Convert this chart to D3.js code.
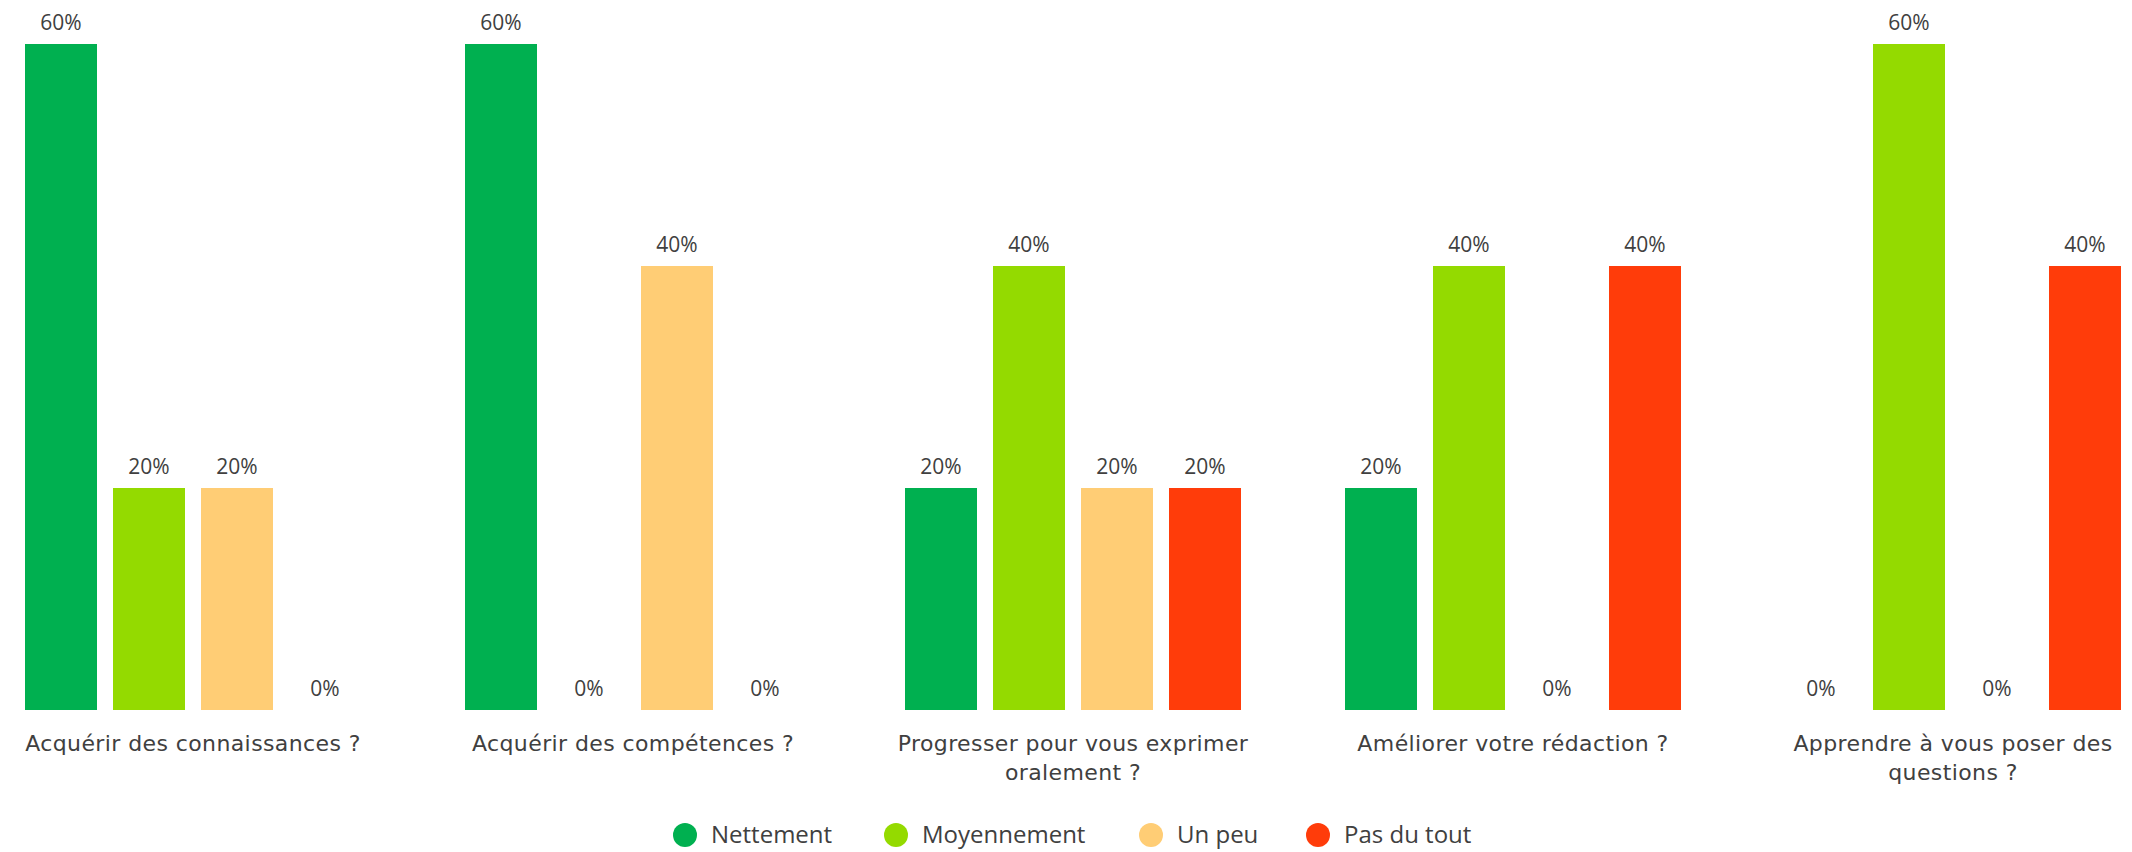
<!DOCTYPE html>
<html>
<head>
<meta charset="utf-8">
<script src="https://cdn.jsdelivr.net/npm/d3@7"></script>
<style>
  body { margin: 0; background: #fff; }
  text { font-family: "Open Sans", sans-serif; fill: #404040; }
  .cat { font-family: "DejaVu Sans", sans-serif; letter-spacing: 0.4px; }
</style>
</head>
<body>
<div id="chart"></div>
<script>

var categories = ["Acquérir des connaissances ?", "Acquérir des compétences ?", "Progresser pour vous exprimer\noralement ?", "Améliorer votre rédaction ?", "Apprendre à vous poser des\nquestions ?"];
var seriesNames = ["Nettement", "Moyennement", "Un peu", "Pas du tout"];
var nettement = [60, 60, 20, 20, 0];
var moyennement = [20, 0, 40, 40, 60];
var unPeu = [20, 40, 20, 0, 0];
var pasDuTout = [0, 0, 20, 40, 40];
var colors = ["#00b050", "#94da00", "#ffcd75", "#ff3c0a"];

var width = 2132;
var height = 852;
var margin = { "top": 44, "bottom": 142, "left": 25, "right": 11 };

var allSeries = [nettement, moyennement, unPeu, pasDuTout];

var svg = d3.select("#chart").append("svg").attr("width", width).attr("height", height);

var x0 = d3.scaleBand()
    .domain(categories)
    .range([margin.left, width - margin.right])
    .paddingInner(104 / 440)
    .paddingOuter(0);

var x1 = d3.scaleBand()
    .domain(seriesNames)
    .range([0, x0.bandwidth()])
    .paddingInner(16 / 88)
    .paddingOuter(0);

var yScale = d3.scaleLinear()
    .domain([0, d3.max(allSeries, function(s) { return d3.max(s); })])
    .range([height - margin.bottom, margin.top]);

var groups = svg.append("g")
    .selectAll("g")
    .data(categories)
    .enter()
    .append("g")
    .attr("transform", function(d) { return "translate(" + x0(d) + ",0)"; });

groups.selectAll("rect")
    .data(function(d, i) { return seriesNames.map(function(s, j) { return { name: s, value: allSeries[j][i] }; }); })
    .enter()
    .append("rect")
    .attr("x", function(d) { return x1(d.name); })
    .attr("y", function(d) { return yScale(d.value); })
    .attr("width", x1.bandwidth())
    .attr("height", function(d) { return yScale(0) - yScale(d.value); })
    .attr("fill", function(d, j) { return colors[j]; });

groups.selectAll(".val")
    .data(function(d, i) { return seriesNames.map(function(s, j) { return { name: s, value: allSeries[j][i] }; }); })
    .enter()
    .append("text")
    .attr("class", "val")
    .attr("x", function(d) { return x1(d.name) + x1.bandwidth() / 2; })
    .attr("y", function(d) { return yScale(d.value) - 14; })
    .attr("text-anchor", "middle")
    .style("font-size", "21px")
    .text(function(d) { return d.value + "%"; });

// category labels, split on \n
groups.append("text")
    .attr("class", "cat")
    .attr("x", x0.bandwidth() / 2)
    .attr("y", height - margin.bottom + 41)
    .attr("text-anchor", "middle")
    .style("font-size", "22px")
    .selectAll("tspan")
    .data(function(d) { return d.split("\n"); })
    .enter()
    .append("tspan")
    .attr("x", x0.bandwidth() / 2)
    .attr("dy", function(d, i) { return i === 0 ? 0 : 29; })
    .text(function(d) { return d; });

// legend
var legendX = [685, 896, 1151, 1318];
var legend = svg.append("g")
    .selectAll("g")
    .data(seriesNames)
    .enter()
    .append("g")
    .attr("transform", function(d, i) { return "translate(" + legendX[i] + ",835)"; });

legend.append("circle")
    .attr("r", 12)
    .attr("fill", function(d, i) { return colors[i]; });

legend.append("text")
    .attr("x", 26)
    .attr("y", 8)
    .style("font-size", "24px")
    .text(function(d) { return d; });

</script>
</body>
</html>
